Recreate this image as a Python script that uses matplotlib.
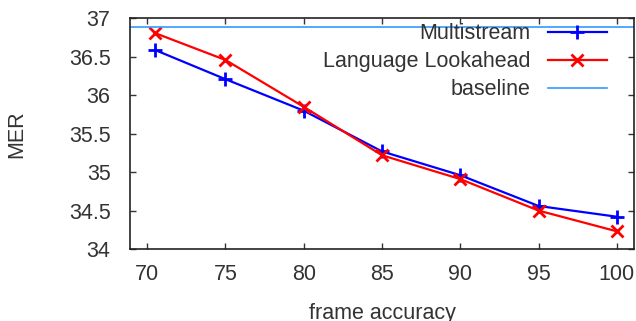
import matplotlib
matplotlib.use("Agg")
import matplotlib.pyplot as plt

frame_accuracy = [70.5, 75, 80, 85, 90, 95, 100]
multistream = [36.59, 36.21, 35.80, 35.27, 34.96, 34.56, 34.42]
lookahead = [36.81, 36.46, 35.85, 35.22, 34.91, 34.50, 34.23]
baseline = 36.89

plt.rcParams["font.family"] = ["Liberation Sans", "DejaVu Sans"]

figure = plt.figure(figsize=(6.36, 3.21), dpi=100)
axis = figure.add_axes([0.2044, 0.2243, 0.7925, 0.7181])

axis.plot(frame_accuracy, multistream, color="#0000ff", lw=1.6, marker="+", ms=10, mew=2, label="Multistream")
axis.plot(frame_accuracy, lookahead, color="#ff0000", lw=1.6, marker="x", ms=9, mew=2, label="Language Lookahead")
axis.axhline(baseline, color="#3399ff", lw=1.2, label="baseline")

axis.set_xlim(68.9, 101.1)
axis.set_ylim(34, 37)
axis.set_xticks([70, 75, 80, 85, 90, 95, 100])
axis.set_yticks([34, 34.5, 35, 35.5, 36, 36.5, 37])
axis.set_yticklabels(["34", "34.5", "35", "35.5", "36", "36.5", "37"])
axis.tick_params(direction="in", length=4, width=1, top=True, right=True, labelsize=15.5, colors="#333333", labelcolor="#333333")
axis.tick_params(axis="y", pad=14)
axis.tick_params(axis="x", pad=11)
for spine in axis.spines.values():
    spine.set_linewidth(1.2)
    spine.set_color("#222222")

axis.set_xlabel("frame accuracy", fontsize=15.5, color="#333333", labelpad=13)
axis.set_ylabel("MER", fontsize=15.5, color="#333333", labelpad=30)

axis.legend(loc="upper right", frameon=False, markerfirst=False, fontsize=15.5, handlelength=2.75,
            handletextpad=0.8, labelspacing=0.32, borderaxespad=0, bbox_to_anchor=(0.9635, 1.016),
            labelcolor="#333333")

figure.savefig("out.png", dpi=100)
